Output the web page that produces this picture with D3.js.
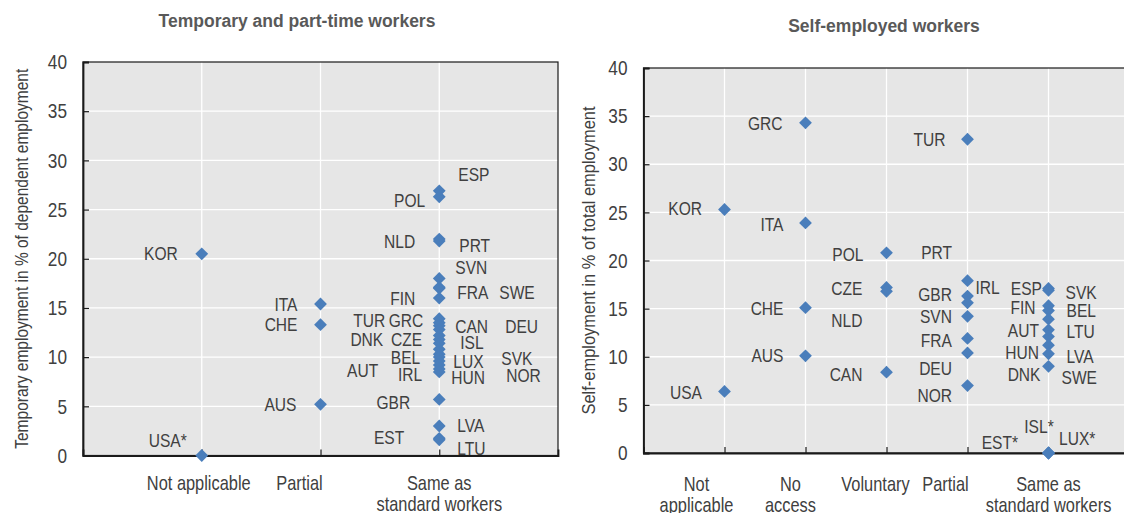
<!DOCTYPE html>
<html lang="en">
<head>
<meta charset="UTF-8">
<title>Temporary, part-time and self-employed workers</title>
<script src="https://d3js.org/d3.v7.min.js"></script>
<style>
    body { margin: 0; background: #fff; }
    svg text { font-family: "Liberation Sans", Arial, sans-serif; fill: #404040; }
    svg text.title { font-weight: bold; font-size: 17.5px; fill: #595959; }
</style>
</head>
<body>
<svg id="chart" width="1124" height="513"></svg>
<script>
// ---- data: temporary and part-time workers ----
const tempCategories = [["Not applicable"], ["Partial"], ["Same as", "standard workers"]];
const tempCountries = ["KOR", "USA*", "ITA", "CHE", "AUS", "ESP", "POL", "NLD", "PRT", "SVN", "FRA", "SWE", "FIN",
    "TUR", "GRC", "CAN", "DEU", "DNK", "CZE", "ISL", "BEL", "LUX", "SVK", "AUT", "IRL", "HUN", "NOR", "GBR", "LVA", "EST", "LTU"];
const tempGroup = [1, 1, 2, 2, 2, 3, 3, 3, 3, 3, 3, 3, 3,
    3, 3, 3, 3, 3, 3, 3, 3, 3, 3, 3, 3, 3, 3, 3, 3, 3, 3];
const tempValues = [20.5, 0, 15.4, 13.3, 5.2, 26.9, 26.3, 22.0, 21.8, 18.0, 17.1, 17.0, 16.0,
    13.9, 13.5, 13.2, 12.8, 12.2, 11.8, 11.4, 10.8, 10.3, 10.0, 9.6, 9.2, 8.8, 8.5, 5.7, 3.0, 1.75, 1.6];

// ---- data: self-employed workers ----
const selfCategories = [["Not", "applicable"], ["No", "access"], ["Voluntary"], ["Partial"], ["Same as", "standard workers"]];
const selfCountries = ["USA", "KOR", "GRC", "ITA", "CHE", "AUS", "POL", "CZE", "NLD", "CAN",
    "TUR", "IRL", "GBR", "PRT", "SVN", "FRA", "DEU", "NOR",
    "ESP", "SVK", "FIN", "BEL", "LTU", "AUT", "HUN", "LVA", "SWE", "DNK", "EST*", "ISL*", "LUX*"];
const selfGroup = [1, 1, 2, 2, 2, 2, 3, 3, 3, 3,
    4, 4, 4, 4, 4, 4, 4, 4,
    5, 5, 5, 5, 5, 5, 5, 5, 5, 5, 5, 5, 5];
const selfValues = [6.4, 25.3, 34.3, 23.9, 15.1, 10.1, 20.8, 17.2, 16.8, 8.4,
    32.6, 17.9, 16.3, 15.6, 14.2, 11.9, 10.4, 7.0,
    17.1, 16.9, 15.3, 14.8, 13.9, 12.8, 12.1, 11.2, 10.3, 9.0, 0, 0, 0];

const yTicks = [0, 5, 10, 15, 20, 25, 30, 35, 40];

// label placement next to each marker: [dx, dy, anchor]
const tempLabelPos = {
    "KOR": [-24, 0, "end"], "USA*": [-15, -15, "end"], "ITA": [-23, 0, "end"], "CHE": [-23, 0, "end"], "AUS": [-24, 0, "end"],
    "ESP": [19, -16, "start"], "POL": [-14, 4, "end"], "NLD": [-24, 2, "end"], "PRT": [20, 4, "start"],
    "SVN": [16, -11, "start"], "FRA": [18, 5, "start"], "SWE": [60, 4, "start"], "FIN": [-24, 0, "end"],
    "TUR": [-54, 1.5, "end"], "GRC": [-16, -2.5, "end"], "CAN": [16, 0.5, "start"], "DEU": [66, -3.5, "start"],
    "DNK": [-56, 4, "end"], "CZE": [-17, 0, "end"], "ISL": [21, -1, "start"], "BEL": [-19, 8, "end"],
    "LUX": [14, 7, "start"], "SVK": [62, 1, "start"], "AUT": [-61, 9, "end"], "IRL": [-17, 9, "end"],
    "HUN": [12, 9, "start"], "NOR": [67, 4, "start"], "GBR": [-29, 3, "end"], "LVA": [18, -1, "start"],
    "EST": [-35, -1, "end"], "LTU": [18, 9, "start"]
};
const selfLabelPos = {
    "USA": [-22.5, 1, "end"], "KOR": [-22.5, -1.5, "end"], "GRC": [-23, 1, "end"], "ITA": [-22, 1, "end"],
    "CHE": [-22, 1, "end"], "AUS": [-22, 0, "end"], "POL": [-23, 2, "end"], "CZE": [-24, 1, "end"],
    "NLD": [-24, 29, "end"], "CAN": [-24, 2, "end"], "TUR": [-22, 0, "end"], "IRL": [8, 7, "start"],
    "GBR": [-15.5, -2, "end"], "PRT": [-15.5, -50, "end"], "SVN": [-15.5, 0, "end"], "FRA": [-15.5, 1.5, "end"],
    "DEU": [-15.5, 16, "end"], "NOR": [-15.5, 10, "end"], "ESP": [-6.5, 0.5, "end"], "SVK": [17, 2, "start"],
    "FIN": [-13, 2, "end"], "BEL": [18, 0, "start"], "LTU": [18, 12, "start"], "AUT": [-9.5, 1, "end"],
    "HUN": [-9.5, 16, "end"], "LVA": [18, 11, "start"], "SWE": [13, 24, "start"], "DNK": [-8, 8, "end"],
    "EST*": [-30.5, -10.5, "end"], "ISL*": [-9.5, -27, "middle"], "LUX*": [10.5, -15, "start"]
};

// no Arial Narrow here, so squeeze Liberation Sans horizontally
const NARROW = 0.82;

const svg = d3.select("#chart");

const panels = [
    {
        title: "Temporary  and part-time workers", titleX: 297, titleY: 27,
        yTitle: "Temporary employment in % of dependent employment", yTitleX: 23, yTitleLen: 380,
        left: 83, right: 558, top: 62, bottom: 455.5,
        categories: tempCategories, countries: tempCountries, group: tempGroup, values: tempValues,
        labelPos: tempLabelPos, catDx: [-3, -21, 0], catY: 490
    },
    {
        title: "Self-employed workers", titleX: 884, titleY: 32,
        yTitle: "Self-employment in % of total employment", yTitleX: 590, yTitleLen: 308,
        left: 643.5, right: 1129.5, top: 68, bottom: 453,
        categories: selfCategories, countries: selfCountries, group: selfGroup, values: selfValues,
        labelPos: selfLabelPos, catDx: [-28, -15, -11, -22, 0], catY: 491
    }
];

panels.forEach(p => {
    const n = p.categories.length;
    const x = d3.scaleLinear().domain([0, n + 1]).range([p.left, p.right]);
    const y = d3.scaleLinear().domain([0, 40]).range([p.bottom, p.top]);
    const g = svg.append("g");

    // plot background
    g.append("rect")
        .attr("x", p.left).attr("y", p.top)
        .attr("width", p.right - p.left).attr("height", p.bottom - p.top)
        .attr("fill", "#e6e6e6");

    // gridlines
    g.selectAll(".hgrid").data(yTicks.slice(1, -1)).enter().append("line")
        .attr("x1", p.left).attr("x2", p.right)
        .attr("y1", d => y(d)).attr("y2", d => y(d))
        .attr("stroke", "#fff").attr("stroke-width", 1.3);
    g.selectAll(".vgrid").data(d3.range(1, n + 1)).enter().append("line")
        .attr("x1", d => x(d)).attr("x2", d => x(d))
        .attr("y1", p.top).attr("y2", p.bottom)
        .attr("stroke", "#fff").attr("stroke-width", 1.3);

    // frame
    g.append("rect")
        .attr("x", p.left).attr("y", p.top)
        .attr("width", p.right - p.left).attr("height", p.bottom - p.top)
        .attr("fill", "none").attr("stroke", "#1a1a1a").attr("stroke-width", 1.2);

    // y axis
    const yAxis = g.append("g")
        .attr("transform", `translate(${p.left},0)`)
        .call(d3.axisLeft(y).tickValues(yTicks).tickSize(-6).tickPadding(16));
    yAxis.select(".domain").attr("stroke", "#1a1a1a").attr("stroke-width", 1.8);
    yAxis.selectAll(".tick line").attr("stroke", "#1a1a1a").attr("stroke-width", 1.2);
    yAxis.selectAll(".tick text")
        .attr("x", -16 / NARROW)
        .attr("transform", `scale(${NARROW},1)`)
        .style("font-size", "21px").attr("fill", "#4d4d4d");

    // x axis (ticks only)
    const xAxis = g.append("g")
        .attr("transform", `translate(0,${p.bottom})`)
        .call(d3.axisBottom(x).tickValues(d3.range(1, n + 1)).tickSize(-6).tickFormat(""));
    xAxis.select(".domain").attr("stroke", "#1a1a1a").attr("stroke-width", 1.8);
    xAxis.selectAll(".tick line").attr("stroke", "#1a1a1a").attr("stroke-width", 1.2);

    // category labels
    p.categories.forEach((lines, i) => {
        const t = g.append("text")
            .attr("transform", `translate(${x(i + 1) + p.catDx[i]},${p.catY}) scale(${NARROW},1)`)
            .attr("text-anchor", "middle")
            .style("font-size", "20px").attr("fill", "#404040");
        lines.forEach((line, j) => {
            t.append("tspan").attr("x", 0).attr("dy", j === 0 ? 0 : 21).text(line);
        });
    });

    // titles
    g.append("text").attr("class", "title")
        .attr("x", p.titleX).attr("y", p.titleY)
        .attr("text-anchor", "middle").text(p.title);
    g.append("text")
        .attr("transform", `translate(${p.yTitleX},${(p.top + p.bottom) / 2}) rotate(-90)`)
        .attr("text-anchor", "middle").attr("dominant-baseline", "middle")
        .attr("textLength", p.yTitleLen).attr("lengthAdjust", "spacingAndGlyphs")
        .style("font-size", "18px").attr("fill", "#4d4d4d")
        .text(p.yTitle);

    const points = p.countries.map((c, i) => ({ code: c, cat: p.group[i], value: p.values[i] }));

    // markers
    g.selectAll(".pt").data(points).enter().append("path")
        .attr("d", d3.symbol(d3.symbolSquare, 82))
        .attr("transform", d => `translate(${x(d.cat)},${y(d.value)}) rotate(45)`)
        .attr("fill", "#4a7ebb");

    // country labels
    g.selectAll(".lbl").data(points).enter().append("text")
        .attr("transform", d => `translate(${x(d.cat) + p.labelPos[d.code][0]},${y(d.value) + p.labelPos[d.code][1]}) scale(${NARROW},1)`)
        .attr("text-anchor", d => p.labelPos[d.code][2])
        .attr("dominant-baseline", "central")
        .style("font-size", "19px").attr("fill", "#404040")
        .text(d => d.code);
});
</script>
</body>
</html>
